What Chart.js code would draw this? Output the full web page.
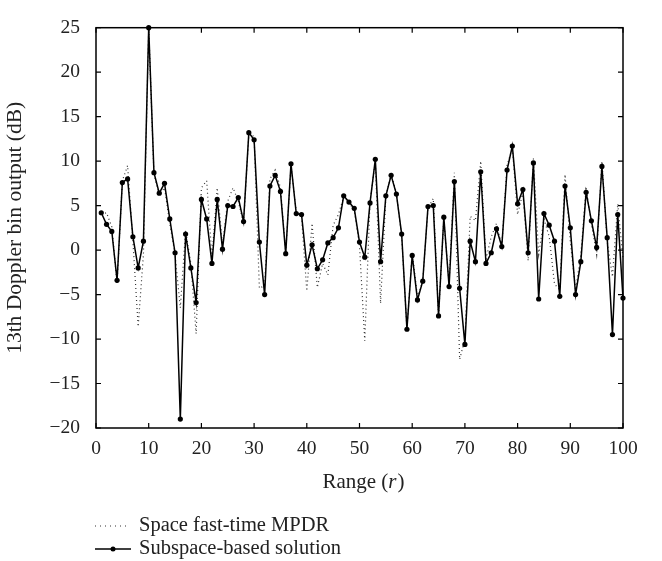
<!DOCTYPE html>
<html>
<head>
<meta charset="utf-8">
<script src="https://cdn.jsdelivr.net/npm/chart.js@4.4.1/dist/chart.umd.min.js"></script>
<style>
  html, body { margin: 0; padding: 0; background: #fff; }
  #wrap { position: relative; width: 662px; height: 561px; }
</style>
</head>
<body>
<div id="wrap"><canvas id="chart" width="662" height="561"></canvas></div>
<script>
// range cells r
const rangeVals = [1,2,3,4,5,6,7,8,9,10,11,12,13,14,15,16,17,18,19,20,
  21,22,23,24,25,26,27,28,29,30,31,32,33,34,35,36,37,38,39,40,
  41,42,43,44,45,46,47,48,49,50,51,52,53,54,55,56,57,58,59,60,
  61,62,63,64,65,66,67,68,69,70,71,72,73,74,75,76,77,78,79,80,
  81,82,83,84,85,86,87,88,89,90,91,92,93,94,95,96,97,98,99,100];

// Space fast-time MPDR (dotted)
const mpdr = [4.0,4.2,2.6,-3.8,7.8,9.5,1.0,-8.6,-0.5,25.0,
  8.5,6.2,7.0,3.0,-0.5,-6.5,2.2,-1.5,-9.4,7.0,
  7.8,-0.8,7.0,0.6,5.5,7.0,5.5,3.0,13.0,12.8,
  -4.3,-4.0,8.0,9.0,7.0,-0.2,9.5,4.3,3.8,-4.6,
  3.0,-4.2,-1.5,-2.8,2.8,4.0,6.0,5.3,4.5,0.5,
  -10.2,5.5,10.0,-6.0,6.0,8.5,6.5,1.5,-8.9,-0.2,
  -5.3,-3.5,4.7,5.8,-7.4,3.5,-3.8,8.7,-12.3,-10.0,
  3.8,3.3,10.0,-1.0,1.5,3.0,0.5,9.5,11.5,4.0,
  6.5,-1.2,10.3,-0.5,3.5,1.5,-3.8,-4.5,8.5,1.0,
  -4.5,-0.5,7.0,3.0,-0.5,10.0,1.0,-3.0,5.2,-1.0];

// Subspace-based solution (solid with dots)
const subspace = [4.2,2.9,2.1,-3.4,7.6,8.0,1.5,-2.0,1.0,25.0,
  8.7,6.4,7.5,3.5,-0.3,-19.0,1.8,-2.0,-5.9,5.7,
  3.5,-1.5,5.7,0.1,5.0,4.9,5.9,3.2,13.2,12.4,
  0.9,-5.0,7.2,8.4,6.6,-0.4,9.7,4.1,4.0,-1.7,
  0.6,-2.1,-1.1,0.8,1.4,2.5,6.1,5.4,4.7,0.9,
  -0.8,5.3,10.2,-1.3,6.1,8.4,6.3,1.8,-8.9,-0.6,
  -5.6,-3.5,4.9,5.0,-7.4,3.7,-4.1,7.7,-4.3,-10.6,
  1.0,-1.3,8.8,-1.5,-0.3,2.4,0.4,9.0,11.7,5.2,
  6.8,-0.3,9.8,-5.5,4.1,2.8,1.0,-5.2,7.2,2.5,
  -5.0,-1.3,6.5,3.3,0.3,9.4,1.4,-9.5,4.0,-5.4];

const xTicks = [0,10,20,30,40,50,60,70,80,90,100];
const yTicks = [-20,-15,-10,-5,0,5,10,15,20,25];

const seriesNames = ["Space fast-time MPDR", "Subspace-based solution"];

const serif = "'Liberation Serif', 'DejaVu Serif', serif";

function toPoints(ys) {
    return rangeVals.map((r, i) => ({ x: r, y: ys[i] }));
}

// frame, inward ticks, x title and legend
const framePlugin = {
    id: "frame",
    afterDraw(chart) {
        const ctx = chart.ctx;
        const a = chart.chartArea;
        const xs = chart.scales.x;
        const ys = chart.scales.y;
        ctx.save();
        ctx.strokeStyle = "#000";
        ctx.lineWidth = 1.5;
        ctx.strokeRect(a.left, a.top, a.right - a.left, a.bottom - a.top);

        ctx.lineWidth = 1.2;
        const tl = 5;
        ctx.beginPath();
        xTicks.forEach(v => {
            const px = xs.getPixelForValue(v);
            ctx.moveTo(px, a.bottom); ctx.lineTo(px, a.bottom - tl);
            ctx.moveTo(px, a.top); ctx.lineTo(px, a.top + tl);
        });
        yTicks.forEach(v => {
            const py = ys.getPixelForValue(v);
            ctx.moveTo(a.left, py); ctx.lineTo(a.left + tl, py);
            ctx.moveTo(a.right, py); ctx.lineTo(a.right - tl, py);
        });
        ctx.stroke();

        // x axis title with italic r
        ctx.fillStyle = "#222";
        ctx.textBaseline = "middle";
        ctx.textAlign = "left";
        const p1 = "Range (", p2 = "r", p3 = ")";
        const fs = "21px ";
        ctx.font = fs + serif;
        const w1 = ctx.measureText(p1).width;
        const w3 = ctx.measureText(p3).width;
        ctx.font = "italic " + fs + serif;
        const w2 = ctx.measureText(p2).width + 1;
        let tx = (a.left + a.right) / 2 + 4 - (w1 + w2 + w3) / 2;
        const ty = 482;
        ctx.font = fs + serif;
        ctx.fillText(p1, tx, ty);
        ctx.font = "italic " + fs + serif;
        ctx.fillText(p2, tx + w1, ty);
        ctx.font = fs + serif;
        ctx.fillText(p3, tx + w1 + w2, ty);

        // legend
        const lx0 = 95, lx1 = 131, textX = 139;
        const ly1 = 526, ly2 = 549;
        ctx.strokeStyle = "#333";
        ctx.lineWidth = 1.2;
        ctx.setLineDash([1, 4]);
        ctx.beginPath();
        ctx.moveTo(lx0, ly1); ctx.lineTo(lx1 - 3, ly1);
        ctx.stroke();
        ctx.setLineDash([]);
        ctx.strokeStyle = "#000";
        ctx.lineWidth = 1.5;
        ctx.beginPath();
        ctx.moveTo(lx0, ly2); ctx.lineTo(lx1, ly2);
        ctx.stroke();
        ctx.fillStyle = "#000";
        ctx.beginPath();
        ctx.arc((lx0 + lx1) / 2, ly2, 2.5, 0, Math.PI * 2);
        ctx.fill();

        ctx.fillStyle = "#222";
        ctx.font = "20.5px " + serif;
        ctx.fillText(seriesNames[0], textX, ly1);
        ctx.fillText(seriesNames[1], textX, ly2);
        ctx.restore();
    }
};

const ctx = document.getElementById("chart").getContext("2d");
new Chart(ctx, {
    type: "line",
    data: {
        datasets: [
            {
                label: seriesNames[0],
                data: toPoints(mpdr),
                borderColor: "#333",
                borderWidth: 1.2,
                borderDash: [1, 3],
                pointRadius: 0,
                tension: 0,
                clip: false,
                order: 2
            },
            {
                label: seriesNames[1],
                data: toPoints(subspace),
                borderColor: "#000",
                borderWidth: 1.5,
                pointRadius: 2.6,
                pointBackgroundColor: "#000",
                pointBorderWidth: 0,
                tension: 0,
                clip: false,
                order: 1
            }
        ]
    },
    options: {
        responsive: false,
        animation: false,
        devicePixelRatio: 1,
        layout: { padding: { left: 0, top: 13, right: 39, bottom: 0 } },
        plugins: {
            legend: { display: false },
            tooltip: { enabled: false }
        },
        scales: {
            x: {
                type: "linear",
                min: 0,
                max: 100,
                afterBuildTicks: s => { s.ticks = xTicks.map(v => ({ value: v })); },
                afterFit: s => { s.height = 133; },
                grid: { display: false, drawTicks: false },
                border: { display: false },
                ticks: {
                    padding: 9,
                    color: "#222",
                    font: { family: serif, size: 19.5 },
                    maxRotation: 0
                }
            },
            y: {
                type: "linear",
                min: -20,
                max: 25,
                afterBuildTicks: s => { s.ticks = yTicks.map(v => ({ value: v })); },
                afterFit: s => { s.width = 96; },
                grid: { display: false, drawTicks: false },
                border: { display: false },
                ticks: {
                    padding: 16,
                    color: "#222",
                    font: { family: serif, size: 19.5 },
                    callback: v => (v < 0 ? "\u2212" + Math.abs(v) : String(v))
                },
                title: {
                    display: true,
                    text: "13th Doppler bin output (dB)",
                    color: "#222",
                    font: { family: serif, size: 21.5 },
                    padding: { top: 2, bottom: 0 }
                }
            }
        }
    },
    plugins: [framePlugin]
});
</script>
</body>
</html>
